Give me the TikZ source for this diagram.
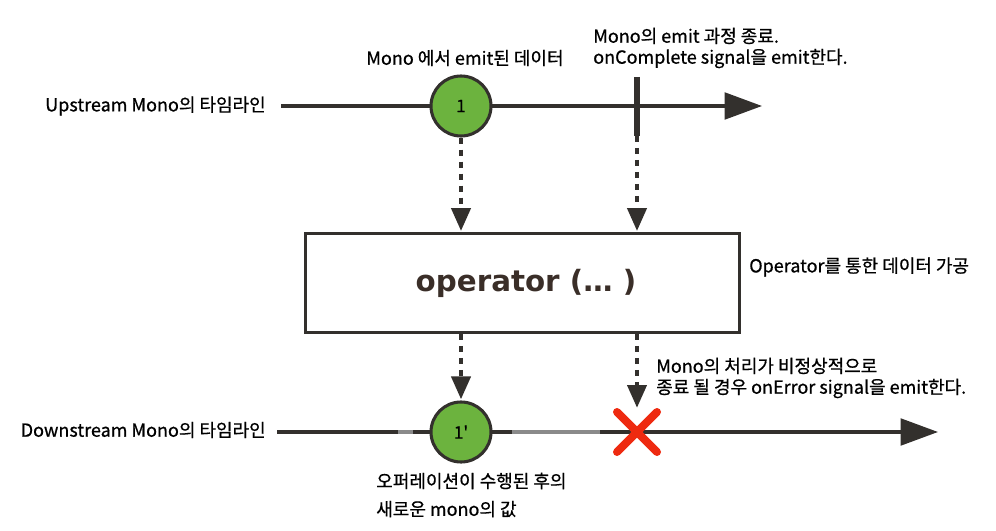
\documentclass[tikz,border=0pt]{standalone}
\usepackage{fontspec}
\setmainfont{Noto Sans CJK KR}[FakeBold=0.7]
\newfontfamily\opfont{DejaVu Sans}
\usetikzlibrary{arrows.meta,calc}
\definecolor{ln}{HTML}{33302D}
\definecolor{grn}{HTML}{6CB33E}
\definecolor{xred}{HTML}{EE2A10}
\definecolor{optext}{HTML}{3A2E28}
\definecolor{lgrey}{HTML}{8A8A8A}
\begin{document}
\begin{tikzpicture}[x=0.75pt,y=-0.75pt,
  lbl/.style={font=\fontsize{13.5}{15.75}\selectfont, inner sep=0pt, align=left},
  tline/.style={draw=ln, line width=2.3pt, -{Triangle[length=28pt,width=20pt]}},
  dsh/.style={draw=ln, line width=2.3pt, dash pattern=on 4.5pt off 4.5pt, -{Triangle[length=17pt,width=14.5pt]}, shorten >=1pt},
  marble/.style={circle, draw=ln, line width=2.3pt, fill=grn, minimum size=45pt, inner sep=0pt, font=\fontsize{13}{14}\selectfont},
  opbox/.style={draw=ln, line width=2.3pt, minimum width=325.5pt, minimum height=74pt, inner sep=0pt},
  xmark/.style={draw=xred, line width=6pt, line cap=round}
]
\useasboundingbox (0,0) rectangle (996,531);

% upstream timeline
\coordinate (us) at (281,106);
\coordinate (ue) at (762,106);
\draw[tline] (us) -- (ue);
\node[marble] (c1) at (461,106) {1};
\coordinate (tt) at (637,77);
\coordinate (tb) at (637,136);
\draw[ln, line width=4pt] (tt) -- (tb);

% operator box
\node[opbox] (box) at (522.5,283) {};
\node[font=\opfont\bfseries\fontsize{22}{26}\selectfont, text=optext, inner sep=0pt] (optxt) at (526,283) {operator (… )};

% downstream timeline
\coordinate (ds) at (277,432);
\coordinate (de) at (938,432);
\draw[tline] (ds) -- (de);
\coordinate (g1a) at (398,432);
\coordinate (g1b) at (413,432);
\coordinate (g2a) at (512,432);
\coordinate (g2b) at (600,432);
\draw[lgrey, line width=2.3pt] (g1a) -- (g1b);
\draw[lgrey, line width=2.3pt] (g2a) -- (g2b);
\node[marble] (c2) at (461,432) {1\textquotesingle};
\coordinate (xc) at (637,432);
\draw[xmark] ($(xc)+(-20,-20)$) -- ($(xc)+(20,20)$);
\draw[xmark] ($(xc)+(-20,20)$) -- ($(xc)+(20,-20)$);

% dashed connectors
\draw[dsh] (c1.south) -- (c1.south |- box.north);
\draw[dsh] (tb) -- (tb |- box.north);
\coordinate (xt) at (637,409);
\draw[dsh] (c1.south |- box.south) -- (c2.north);
\draw[dsh] (tb |- box.south) -- (xt);

% labels
\node[lbl, anchor=east] (l1) at (266,106) {Upstream Mono의 타임라인};
\node[lbl] (l2) at (465,58) {Mono 에서 emit된 데이터};
\node[lbl, anchor=west] (l3) at (593,48) {Mono의 emit 과정 종료.\\onComplete signal을 emit한다.};
\node[lbl, anchor=west] (l4) at (749,267) {Operator를 통한 데이터 가공};
\node[lbl, anchor=west] (l5) at (656,378) {Mono의 처리가 비정상적으로\\종료 될 경우 onError signal을 emit한다.};
\node[lbl, anchor=east] (l6) at (266,430) {Downstream Mono의 타임라인};
\node[lbl, anchor=west, font=\fontsize{13.5}{21}\selectfont] (l7) at (376,495) {오퍼레이션이 수행된 후의\\새로운 mono의 값};
\end{tikzpicture}
\end{document}
